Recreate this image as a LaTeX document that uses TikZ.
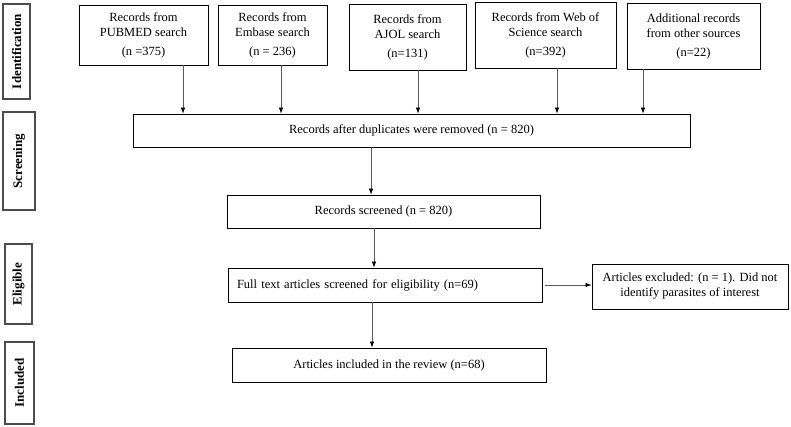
\documentclass[tikz,border=0pt]{standalone}
\usepackage{fontspec}
\setmainfont{Liberation Serif}
\usetikzlibrary{arrows.meta}
\tikzset{
  stagebox/.style={draw=black!70,line width=1.2pt,rotate=90,font=\fontsize{13}{15}\selectfont\bfseries,inner sep=0pt},
  srcbox/.style={draw,line width=0.8pt,align=center,inner sep=0pt},
  flowbox/.style={draw,line width=0.8pt,inner sep=0pt},
  arr/.style={draw=black!65,line width=0.7pt,-{Latex[length=6pt,width=4.5pt,color=black]}}
}
\begin{document}
\begin{tikzpicture}[x=1pt,y=1pt,font=\fontsize{12.5}{15}\selectfont]
    \useasboundingbox (0,0) rectangle (791,-427);
    % stages on the left
    \node [stagebox,minimum width=95,minimum height=27] (ident) at (16.5,-51.5) {Identification};
    \node [stagebox,minimum width=98,minimum height=32] (screen) at (19,-161) {Screening};
    \node [stagebox,minimum width=80,minimum height=27] (elig) at (18.5,-284) {Eligible};
    \node [stagebox,minimum width=82,minimum height=29] (incl) at (19.5,-383) {Included};
    % sources
    \node [srcbox,minimum width=129,minimum height=60] (pubmed) at (143.5,-35) {Records from\\PUBMED search\\[4pt](n =375)};
    \node [srcbox,minimum width=109,minimum height=60] (embase) at (272.5,-35) {Records from\\Embase search\\[4pt](n = 236)};
    \node [srcbox,minimum width=117,minimum height=66] (ajol) at (407.5,-37) {Records from\\AJOL search\\[4pt](n=131)};
    \node [srcbox,minimum width=141,minimum height=66] (wos) at (545.5,-35) {Records from Web of\\Science search\\[4pt](n=392)};
    \node [srcbox,minimum width=133,minimum height=66] (other) at (693.5,-36) {Additional records\\from other sources\\[4pt](n=22)};
    % flow
    \node [flowbox,minimum width=557,minimum height=33] (dup) at (411.5,-130.5) {\raisebox{3pt}{Records after duplicates were removed (n = 820)}};
    \node [flowbox,minimum width=313,minimum height=33] (screened) at (383.5,-211.5) {Records screened (n = 820)};
    \node [flowbox,minimum width=314,minimum height=34,text width=296,align=left,inner xsep=9pt] (fulltext) at (385,-285) {Full text articles screened for eligibility (n=69)};
    \node [flowbox,minimum width=196,minimum height=45,align=center] (excluded) at (690,-286.5) {Articles excluded: (n = 1). Did not\\identify parasites of interest};
    \node [flowbox,minimum width=314,minimum height=34] (included) at (389,-365) {Articles included in the review (n=68)};
    % arrows
    \foreach \src/\x in {pubmed/183,embase/281,ajol/418,wos/557,other/643}
    \draw [arr] (\x,0 |- \src.south) -- (\x,0 |- dup.north);
    \draw [arr] (371,0 |- dup.south) -- (371,0 |- screened.north);
    \draw [arr] (374,0 |- screened.south) -- (374,0 |- fulltext.north);
    \draw [arr] (372,0 |- fulltext.south) -- (372,0 |- included.north);
    \draw [arr] ([xshift=3pt]fulltext.east) -- (excluded.west |- fulltext.east);
  \end{tikzpicture}
\end{document}
